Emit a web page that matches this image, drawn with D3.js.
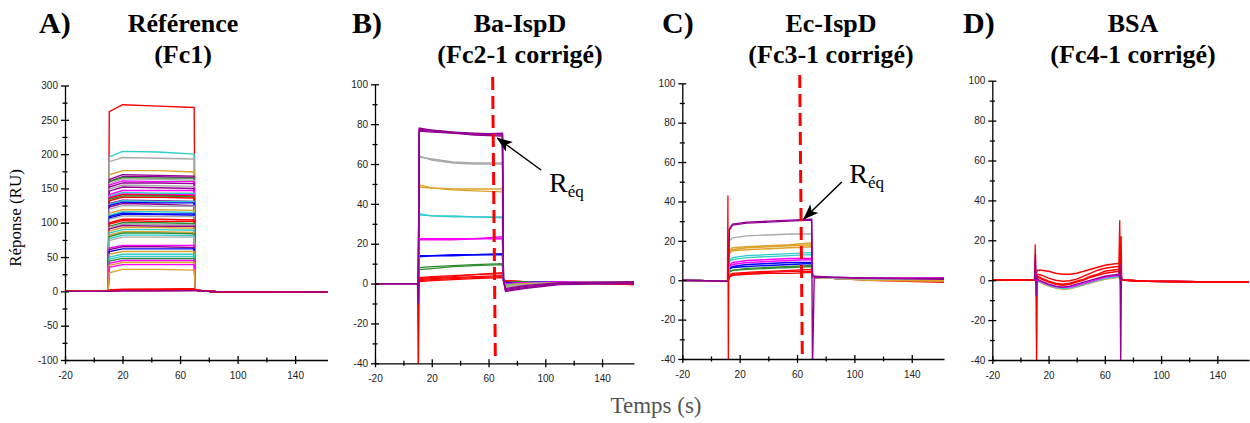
<!DOCTYPE html>
<html><head><meta charset="utf-8">
<script src="https://cdn.jsdelivr.net/npm/d3@7"></script>
<style>body{margin:0;background:#fff}</style>
</head><body><svg id="c" width="1250" height="423"></svg>
<script>
// ---------------- DATA ----------------
const xTicks = [-20, 20, 60, 100, 140];
const xMinor = [0, 40, 80, 120];
const yTicksA = [-100, -50, 0, 50, 100, 150, 200, 250, 300];
const yMinorA = [-75, -25, 25, 75, 125, 175, 225, 275];
const yTicksB = [-40, -20, 0, 20, 40, 60, 80, 100];
const yMinorB = [-30, -10, 10, 30, 50, 70, 90];

const panelLetters = ["A)", "B)", "C)", "D)"];
const panelTitles = [["Référence", "(Fc1)"], ["Ba-IspD", "(Fc2-1 corrigé)"], ["Ec-IspD", "(Fc3-1 corrigé)"], ["BSA", "(Fc4-1 corrigé)"]];
const xLabel = "Temps (s)";
const yLabel = "Réponse (RU)";

// Panel A : Fc1 reference sensorgrams
const timeA = [-20, 10, 10.8, 20, 45, 69.8, 70.6, 75, 85, 163];
const seriesA = [
  ["red",     [0,0,262,272,270,268,3,1,-0.5,-1]],
  ["cyan",    [0,0,196,204,203,200,2,1,-0.5,-1]],
  ["gray",    [0,0,189,195,194,193,2,1,-0.5,-1]],
  ["orange",  [0,0,170,176,176,174,2,1,-0.5,-1]],
  ["purple",  [0,0,163,170,169,168,2,1,-0.5,-1]],
  ["purple",  [0,0,160,167,167,166,2,1,-0.5,-1]],
  ["green",   [0,0,160,166,165,165,2,1,-0.5,-1]],
  ["gray",    [0,0,157,164,163,162,2,1,-0.5,-1]],
  ["magenta", [0,0,155,161,160,160,2,1,-0.5,-1]],
  ["purple",  [0,0,152,158,158,157,2,1,-0.5,-1]],
  ["gray",    [0,0,149,155,154,153,2,1,-0.5,-1]],
  ["purple",  [0,0,146,152,151,150,2,1,-0.5,-1]],
  ["magenta", [0,0,141,147,147,147,2,1,-0.5,-1]],
  ["cyan",    [0,0,139,144,143,143,2,1,-0.5,-1]],
  ["magenta", [0,0,137,142,141,141,2,1,-0.5,-1]],
  ["red",     [0,0,136,141,140,139,2,1,-0.5,-1]],
  ["green",   [0,0,134,139,139,138,2,1,-0.5,-1]],
  ["red",     [0,0,132,137,137,136,2,1,-0.5,-1]],
  ["purple",  [0,0,128,133,132,131,2,1,-0.5,-1]],
  ["cyan",    [0,0,127,132,131,131,2,1,-0.5,-1]],
  ["blue",    [0,0,125,130,129,129,2,1,-0.5,-1]],
  ["purple",  [0,0,123,128,127,125,2,1,-0.5,-1]],
  ["gray",    [0,0,120,125,124,124,2,1,-0.5,-1]],
  ["orange",  [0,0,114,119,119,118,2,1,-0.5,-1]],
  ["cyan",    [0,0,111,116,116,115,2,1,-0.5,-1]],
  ["blue",    [0,0,109,114,113,113,2,1,-0.5,-1]],
  ["blue",    [0,0,107,112,112,111,2,1,-0.5,-1]],
  ["gray",    [0,0,105,110,109,109,2,1,-0.5,-1]],
  ["red",     [0,0,100,105,105,104,2,1,-0.5,-1]],
  ["red",     [0,0,98,103,102,102,2,1,-0.5,-1]],
  ["green",   [0,0,95,100,100,99,2,1,-0.5,-1]],
  ["gray",    [0,0,93,98,97,97,2,1,-0.5,-1]],
  ["purple",  [0,0,91,96,95,95,2,1,-0.5,-1]],
  ["orange",  [0,0,88,93,93,92,2,1,-0.5,-1]],
  ["cyan",    [0,0,85,90,90,89,2,1,-0.5,-1]],
  ["orange",  [0,0,82,87,87,86,2,1,-0.5,-1]],
  ["green",   [0,0,80,85,85,84,2,1,-0.5,-1]],
  ["cyan",    [0,0,77,82,82,81,2,1,-0.5,-1]],
  ["gray",    [0,0,74,79,79,79,2,1,-0.5,-1]],
  ["magenta", [0,0,63,67,67,67,2,1,-0.5,-1]],
  ["purple",  [0,0,61,65,65,64,2,1,-0.5,-1]],
  ["blue",    [0,0,58,62,62,62,2,1,-0.5,-1]],
  ["orange",  [0,0,54,58,58,58,2,1,-0.5,-1]],
  ["cyan",    [0,0,50,54,54,54,2,1,-0.5,-1]],
  ["cyan",    [0,0,47,51,51,51,2,1,-0.5,-1]],
  ["green",   [0,0,44,48,48,48,2,1,-0.5,-1]],
  ["magenta", [0,0,41,45,45,45,2,1,-0.5,-1]],
  ["orange",  [0,0,38,42,42,42,2,1,-0.5,-1]],
  ["magenta", [0,0,35,39,39,39,2,1,-0.5,-1]],
  ["orange",  [0,0,27,32,32,31,2,1,-0.5,-1]],
  ["red",     [0,0,1,2,2,3,2,1,-0.5,-1]],
  ["red",     [0,0,1.5,2.5,3,3.5,2,1,-0.5,-1]],
  ["red",     [0,0,0.5,1.5,1.5,2,1.5,1,-0.5,-1]],
  ["red",     [0,0,2,3,3,4,2,1,-0.5,-1]],
  ["purple",  [0,0,0,0.5,0.5,1,1,0.5,-0.5,-1]]
];
const spikesA = [];

// Panel B : Ba-IspD (Fc2-1)
const timeB = [-20, 10, 10.5, 11.2, 20, 35, 50, 69.8, 70.5, 72, 85, 110, 163];
const seriesB = [
  ["red",     [0,0,-45,1,1.5,2,2.5,3,1.5,1,1,0.5,0]],
  ["red",     [0,0,0,2,2.5,3,3.5,4,1.5,1,1,0.5,0]],
  ["red",     [0,0,0,2.5,3,3.5,4.5,5.5,2,1.5,1,0.5,-0.5]],
  ["red",     [0,0,0,1.5,2,2.5,3,3.5,1.5,1,0.5,0.5,0]],
  ["red",     [0,0,0,3,3.5,4,4.5,5,2,1.5,1,0.5,-0.5]],
  ["green",   [0,0,0,7,7.5,8.5,9,9.5,1.5,0.5,1,1,1]],
  ["green",   [0,0,0,8,8.5,9,9.5,10,1.5,0.5,1,1,1]],
  ["blue",    [0,0,0,13.5,14,14,14.5,14.5,1.5,0.5,0.5,1,1]],
  ["blue",    [0,0,0,14,14,14.5,14.5,15,1.5,0,0.5,1,1]],
  ["magenta", [0,0,0,22,22,22,22.5,22.5,1.5,-0.5,0.5,0.5,1]],
  ["magenta", [0,0,0,22.5,22.5,22.5,22.5,23.5,1.5,0,0.5,1,1]],
  ["cyan",    [0,0,0,34.5,34,34,33.5,33,1.5,-0.5,0,0.5,0.5]],
  ["cyan",    [0,0,0,35,34,33.5,33.5,33.5,1.5,-1,0,0.5,1]],
  ["orange",  [0,0,0,48.5,48,47.5,47.5,47.5,1.5,-1,0,0.5,1]],
  ["orange",  [0,0,0,49.5,48,47,46.5,46,1.5,-1.5,-0.5,0.5,0.5]],
  ["gray",    [0,0,0,63.5,62.5,61,60.5,60.5,1.5,-1.5,-0.5,0.5,1]],
  ["gray",    [0,0,0,64,62,60.5,60,60,1.5,-2,-1,0,0.5]],
  ["purple",  [0,0,0,76.5,76,75.5,75,75.5,2.5,-2.5,-1,0.5,1]],
  ["purple",  [0,0,0,77,76.5,75.5,74.5,74,1.5,-3,-1.5,0,0.5]],
  ["purple",  [0,0,0,78,77,76,75.5,75,2,-4,-2.5,-0.5,0]],
  ["purple",  [0,0,-10,77.5,77,76,75,74.5,2,-3.5,-2,0,0.5]]
];
const spikesB = [];

// Panel C : Ec-IspD (Fc3-1)
const timeC = [-20, 11.5, 12, 12.8, 15, 25, 40, 55, 70.2, 70.8, 72, 85, 110, 163];
const seriesC = [
  ["red",     [0,-0.5,0,2,3,3.5,4,4.5,4.5,2,1.5,1,0.5,0]],
  ["red",     [0,-0.5,0,1.5,2.5,3,3.5,3.5,4,2,1.5,1,0,-1]],
  ["red",     [0,-0.5,0,2.5,3.5,4,4.5,5,5.5,2,1.5,1,0.5,-0.5]],
  ["green",   [0,-0.5,0,4,5,5.5,6,6.5,7,2,1.5,1,0.5,0.5]],
  ["green",   [0,-0.5,0,4.5,5,6,6.5,7,7.5,2,1.5,1,0.5,0.5]],
  ["blue",    [0,-0.5,0,5.5,6.5,7,7.5,8,8.5,2,1.5,1,0.5,0.5]],
  ["blue",    [0,-0.5,0,6,7,8,8.5,9,9,2,1.5,1,0.5,0.5]],
  ["magenta", [0,-0.5,0,7,8,9,9.5,10,10.5,2,1.5,1,1,1]],
  ["magenta", [0,-0.5,0,7.5,9,10,10.5,11,11,2,1.5,1,1,1]],
  ["cyan",    [0,-0.5,0,9.5,10.5,11.5,12,12.5,13,2,1.5,1,0.5,0.5]],
  ["cyan",    [0,-0.5,0,10,11.5,12.5,13,13.5,14,2,1.5,1,0.5,0.5]],
  ["orange",  [0,-0.5,0,13.5,15,15.5,16,16.5,17,2,1.5,1,0.5,0]],
  ["orange",  [0,-0.5,0,14,15.5,16.5,17,17.5,18,2,1.5,1,0.5,0]],
  ["orange",  [0,-0.5,0,15,16.5,17,17.5,18,19,2,1.5,1,0,-0.5]],
  ["gray",    [0,-0.5,0,20,21.5,22.5,23,23.5,23.5,2,1.5,1,0.5,0.5]],
  ["purple",  [0,-0.5,0,25.5,28,29,29.5,30,30.5,2.5,2,1.5,1,0.5]],
  ["purple",  [0,-0.5,0,26,28.5,29.5,30,30.5,31,-45,1.5,1.5,1,1]]
];
const spikesC = [
  {k: "red", t: [11.5, 11.8, 12.1, 12.4, 12.8], v: [0, 43, -45, 0, 2]}
];

// Panel D : BSA (Fc4-1)
const timeD = [-20, 10, 12, 15, 20, 25, 30, 35, 40, 45, 50, 55, 60, 65, 70, 71.5, 75, 90, 163];
const seriesD = [
  ["orange",  [0,0,-0.5,-1.5,-3,-4,-4.5,-4.3,-3.5,-2.5,-1.5,-0.5,0.5,1,1.5,0,0,-0.5,-1]],
  ["gray",    [0,0,-0.5,-1.2,-2.8,-3.8,-4.2,-4,-3.2,-2.2,-1.2,-0.2,0.7,1.2,1.8,0,0,-0.5,-1]],
  ["cyan",    [0,0,0,-1,-2.5,-3.5,-4,-3.8,-3,-2,-1,0,1,1.5,2,0,0,-0.5,-1]],
  ["magenta", [0,0,0,-0.8,-2.2,-3.2,-3.6,-3.4,-2.6,-1.6,-0.6,0.4,1.4,2,2.5,0,0,-0.5,-1]],
  ["purple",  [0,0,0.5,-0.5,-2,-3,-3.5,-3,-2,-1,0,1,2,2.5,3,0,0,-0.5,-1]],
  ["red",     [0,0,1.5,0.5,-1,-2,-2.5,-2,-1,0,1.5,2.5,3.5,4,4.5,0,0,-0.5,-1]],
  ["red",     [0,0,2,1,-0.5,-1.5,-2,-1.5,-0.5,0.5,2,3,4.5,5,5.5,0.5,0,-0.5,-1]],
  ["red",     [0,0,3,2.5,1,0,-0.5,-0.3,0.5,2,3.5,5,6,6.5,7,0.5,0,-0.5,-1]],
  ["red",     [0,0,5,5,4.5,3.5,3,3,3.5,4.5,5.5,6.5,7.5,8,8.5,0.5,0,-0.5,-1]]
];
const spikesD = [
  {k: "red",    t: [10, 10.5, 11, 11.5, 12], v: [0, 18, 0, -45, 0]},
  {k: "purple", t: [10, 10.7, 11.2, 11.7, 12], v: [0, 13, -8, 3, 0.5]},
  {k: "red",    t: [70, 70.6, 71.1, 71.6, 72], v: [8.5, 30, -3, 22, 0]},
  {k: "purple", t: [70, 70.8, 71.3, 71.8, 72.3], v: [3, 8, -45, 2, 0]}
];

// R_eq annotations (data coords: tail, tip, label) and dashed lines (t/v pairs)
const dashB = {t: [62.9, 64.8], v: [103.7, -38.5]};
const dashC = {t: [61.9, 63.7], v: [104.2, -39.4]};
const arrowB = {from: [97, 57], to: [66.2, 73], label: [102.6, 46]};
const arrowC = {from: [91.2, 49.9], to: [64.7, 31.1], label: [96.5, 49.4]};

// ---------------- STYLE / LAYOUT ----------------
const palette = {
  red: "#ff0000", cyan: "#2ecccc", gray: "#aaaaaa", orange: "#dca22a",
  purple: "#930093", magenta: "#ff00ff", blue: "#0000ff", green: "#2e8b2e"
};
const panels = [
  {xr: [65, 327.5], yr: [360, 85.5], yd: [-100, 300], yt: yTicksA, ym: yMinorA, times: timeA, series: seriesA, spikes: spikesA,
   letterX: 39, titleX: 183},
  {xr: [375, 634], yr: [363.3, 84.3], yd: [-40, 100], yt: yTicksB, ym: yMinorB, times: timeB, series: seriesB, spikes: spikesB,
   letterX: 352, titleX: 520, dash: dashB, arrow: arrowB},
  {xr: [682.3, 944], yr: [359, 83.3], yd: [-40, 100], yt: yTicksB, ym: yMinorB, times: timeC, series: seriesC, spikes: spikesC,
   letterX: 662, titleX: 831, dash: dashC, arrow: arrowC},
  {xr: [992.3, 1249], yr: [360, 80.7], yd: [-40, 100], yt: yTicksB, ym: yMinorB, times: timeD, series: seriesD, spikes: spikesD,
   letterX: 963, titleX: 1133}
];
const xDomain = [-20, 162.5];

const svg = d3.select("#c");
svg.append("rect").attr("width", 1250).attr("height", 423).attr("fill", "#fff");
const defs = svg.append("defs");
defs.append("marker").attr("id", "arr")
  .attr("markerUnits", "userSpaceOnUse")
  .attr("viewBox", "0 0 16 12").attr("markerWidth", 16).attr("markerHeight", 12)
  .attr("refX", 15).attr("refY", 6).attr("orient", "auto")
  .append("path").attr("d", "M0,0 L16,6 L0,12 L4,6 Z").attr("fill", "#000");

const serif = "'Liberation Serif','Times New Roman',serif";
const sans = "'Liberation Sans',Arial,sans-serif";

panels.forEach((p, i) => {
  const g = svg.append("g");
  const x = d3.scaleLinear().domain(xDomain).range(p.xr);
  const y = d3.scaleLinear().domain(p.yd).range(p.yr);
  const cid = "clip" + i;
  defs.append("clipPath").attr("id", cid).append("rect")
    .attr("x", p.xr[0]).attr("y", p.yr[1]).attr("width", p.xr[1] - p.xr[0]).attr("height", p.yr[0] - p.yr[1]);
  const line = d3.line().x(d => x(d[0])).y(d => y(d[1]));
  const plot = g.append("g").attr("clip-path", `url(#${cid})`);
  plot.selectAll("path.s").data(p.series).join("path").attr("class", "s")
    .attr("d", s => line(p.times.map((t, j) => [t, s[1][j]])))
    .attr("fill", "none").attr("stroke", s => palette[s[0]]).attr("stroke-width", 1.4);
  plot.selectAll("path.k").data(p.spikes).join("path").attr("class", "k")
    .attr("d", s => line(s.t.map((t, j) => [t, s.v[j]])))
    .attr("fill", "none").attr("stroke", s => palette[s.k]).attr("stroke-width", 1.3);

  // axes
  const yAx = g.append("g").attr("transform", `translate(${p.xr[0]},0)`)
    .call(d3.axisLeft(y).tickValues(p.yt).tickFormat(d => String(d)).tickSizeInner(4).tickSizeOuter(0).tickPadding(3));
  yAx.selectAll(".tick line").attr("x1", 4);
  const yMin = g.append("g").attr("transform", `translate(${p.xr[0]},0)`)
    .call(d3.axisLeft(y).tickValues(p.ym).tickFormat("").tickSize(2.5));
  yMin.select(".domain").remove();
  yMin.selectAll(".tick line").attr("x1", 2.5);
  const xAx = g.append("g").attr("transform", `translate(0,${p.yr[0]})`)
    .call(d3.axisBottom(x).tickValues(xTicks).tickFormat(d => String(d)).tickSizeInner(4).tickSizeOuter(0).tickPadding(8));
  xAx.selectAll(".tick line").attr("y1", -4);
  const xMin = g.append("g").attr("transform", `translate(0,${p.yr[0]})`)
    .call(d3.axisBottom(x).tickValues(xMinor).tickFormat("").tickSize(2.5));
  xMin.select(".domain").remove();
  xMin.selectAll(".tick line").attr("y1", -2.5);
  g.selectAll(".domain, .tick line").attr("stroke", "#000").attr("stroke-width", 1.3);
  g.selectAll(".tick text").attr("font-family", sans).attr("font-size", 10).attr("fill", "#222");

  // dashed R_eq time marker
  if (p.dash) {
    g.append("path").attr("d", line(p.dash.t.map((t, j) => [t, p.dash.v[j]])))
      .attr("stroke", "#ff0000").attr("stroke-width", 3).attr("stroke-dasharray", "13,6").attr("fill", "none");
  }
  if (p.arrow) {
    const a = p.arrow;
    g.append("line").attr("x1", x(a.from[0])).attr("y1", y(a.from[1]))
      .attr("x2", x(a.to[0])).attr("y2", y(a.to[1]))
      .attr("stroke", "#000").attr("stroke-width", 1.5).attr("marker-end", "url(#arr)");
    const t = g.append("text").attr("x", x(a.label[0])).attr("y", y(a.label[1]))
      .attr("font-family", serif).attr("font-size", 28).attr("fill", "#000");
    t.append("tspan").text("R");
    t.append("tspan").attr("font-size", 17).attr("dy", 5).text("éq");
  }

  // titles
  svg.append("text").attr("x", p.letterX).attr("y", 33).text(panelLetters[i])
    .attr("font-family", serif).attr("font-weight", "bold").attr("font-size", 30).attr("fill", "#000");
  panelTitles[i].forEach((s, j) => {
    svg.append("text").attr("x", p.titleX).attr("y", 32 + j * 31).attr("text-anchor", "middle").text(s)
      .attr("font-family", serif).attr("font-weight", "bold").attr("font-size", 26).attr("fill", "#000");
  });
});

svg.append("text").attr("x", 656).attr("y", 413).attr("text-anchor", "middle").text(xLabel)
  .attr("font-family", serif).attr("font-size", 23).attr("fill", "#555");
svg.append("text").attr("transform", "translate(21,218) rotate(-90)").attr("text-anchor", "middle").text(yLabel)
  .attr("font-family", serif).attr("font-size", 17).attr("fill", "#000");
</script></body></html>
